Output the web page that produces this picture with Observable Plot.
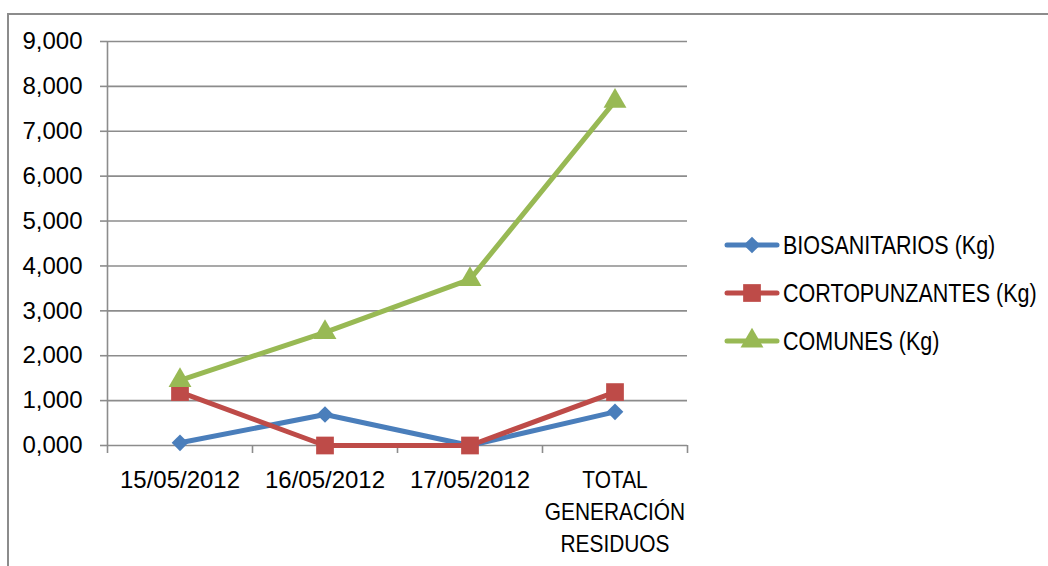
<!DOCTYPE html>
<html>
<head>
<meta charset="utf-8">
<script src="https://cdn.jsdelivr.net/npm/d3@7"></script>
<script src="https://cdn.jsdelivr.net/npm/@observablehq/plot@0.6"></script>
<style>
  html, body { margin: 0; padding: 0; background: #fff; }
  #wrap { position: relative; width: 1048px; height: 566px; overflow: hidden; }
  #frame { position: absolute; left: 7px; top: 13px; right: -10px; bottom: -10px; border-top: 2px solid #8c8c8c; border-left: 2px solid #8c8c8c; }
  #chart { position: absolute; left: 0; top: 0; }
  #legend { position: absolute; left: 724px; top: 0; font-family: "Liberation Sans", Arial, sans-serif; font-size: 25px; color: #000; }
  .item { position: absolute; left: 0; height: 30px; display: flex; align-items: center; white-space: nowrap; }
  .item svg { display: block; margin-right: 3px; }
  .item span { display: inline-block; transform: scaleX(0.86); transform-origin: left center; }
</style>
</head>
<body>
<div id="wrap">
  <div id="frame"></div>
  <div id="chart"></div>
  <div id="legend"></div>
</div>
<script>
const categories = ["15/05/2012", "16/05/2012", "17/05/2012", "TOTAL\nGENERACIÓN\nRESIDUOS"];
const seriesNames = ["BIOSANITARIOS (Kg)", "CORTOPUNZANTES (Kg)", "COMUNES (Kg)"];
const biosanitarios = [0.06, 0.69, 0.0, 0.75];
const cortopunzantes = [1.19, 0.0, 0.0, 1.19];
const comunes = [1.45, 2.52, 3.70, 7.67];
const yTicks = [0, 1, 2, 3, 4, 5, 6, 7, 8, 9];
const yTickLabels = ["0,000", "1,000", "2,000", "3,000", "4,000", "5,000", "6,000", "7,000", "8,000", "9,000"];

const colors = ["#4a7ebb", "#be4b48", "#98b954"];
const symbols = ["diamond2", "square", "triangle"];
const radii = [7.5, 10, 8.5];
const valueArrays = [biosanitarios, cortopunzantes, comunes];

const rows = valueArrays.flatMap((vals, s) => vals.map((v, i) => ({series: seriesNames[s], s, i, v})));

const gridColor = "#8c8c8c";
const font = '"Liberation Sans", Arial, sans-serif';

const marks = [
  Plot.gridY(yTicks, {stroke: gridColor, strokeOpacity: 1, strokeWidth: 1.6}),
  Plot.axisY(yTicks, {tickSize: 7, tickPadding: 18, stroke: gridColor, strokeWidth: 1.6,
    tickFormat: d => yTickLabels[yTicks.indexOf(d)], fontSize: 24, fill: "#000", label: null}),
  Plot.axisX([-0.5, 0.5, 1.5, 2.5, 3.5], {tickSize: 8, stroke: gridColor, strokeWidth: 1.6, tickFormat: () => "", label: null}),
  Plot.axisX([0, 1, 2, 3], {tickSize: 0, tickPadding: 20, tickFormat: i => categories[i], fontSize: 24, fill: "#000", lineHeight: 1.33, label: null}),
  Plot.ruleX([-0.5], {y1: 0, y2: 9, stroke: gridColor, strokeWidth: 1.6}),
];
valueArrays.forEach((vals, s) => {
  const data = rows.filter(d => d.s === s);
  marks.push(Plot.line(data, {x: "i", y: "v", stroke: colors[s], strokeWidth: 5, strokeLinejoin: "round", strokeLinecap: "round"}));
  marks.push(Plot.dot(data, {x: "i", y: "v", fill: colors[s], stroke: "none", symbol: symbols[s], r: radii[s]}));
});

const chart = Plot.plot({
  width: 1048,
  height: 566,
  marginLeft: 107,
  marginRight: 361,
  marginTop: 41,
  marginBottom: 121,
  style: {fontFamily: font, fontSize: "24px", color: "#000", background: "transparent"},
  x: {domain: [-0.5, 3.5], axis: null},
  y: {domain: [0, 9], axis: null},
  marks
});
document.getElementById("chart").appendChild(chart);

// Narrow the lettered labels horizontally (reference uses a condensed face)
chart.querySelectorAll("text").forEach(t => {
  if (!/[A-Z]/.test(t.textContent)) return;
  const tr = t.getAttribute("transform");
  if (tr) {
    t.setAttribute("transform", tr + " scale(0.87,1)");
  } else {
    const cx = +(t.getAttribute("x") || 0);
    t.setAttribute("transform", `translate(${cx},0) scale(0.87,1) translate(${-cx},0)`);
  }
});

// Legend
const legend = document.getElementById("legend");
const legendY = [245, 293, 341];
seriesNames.forEach((name, s) => {
  const item = document.createElement("div");
  item.className = "item";
  item.style.top = (legendY[s] - 15) + "px";
  const sw = d3.create("svg").attr("width", 56).attr("height", 30);
  sw.append("line").attr("x1", 3).attr("x2", 53).attr("y1", 15).attr("y2", 15)
    .attr("stroke", colors[s]).attr("stroke-width", 5).attr("stroke-linecap", "round");
  const sym = {diamond2: d3.symbolDiamond2, square: d3.symbolSquare, triangle: d3.symbolTriangle}[symbols[s]];
  sw.append("path").attr("transform", "translate(28,15)")
    .attr("d", d3.symbol(sym, Math.PI * radii[s] * radii[s])())
    .attr("fill", colors[s]);
  item.appendChild(sw.node());
  const t = document.createElement("span");
  t.textContent = name;
  item.appendChild(t);
  legend.appendChild(item);
});
</script>
</body>
</html>
